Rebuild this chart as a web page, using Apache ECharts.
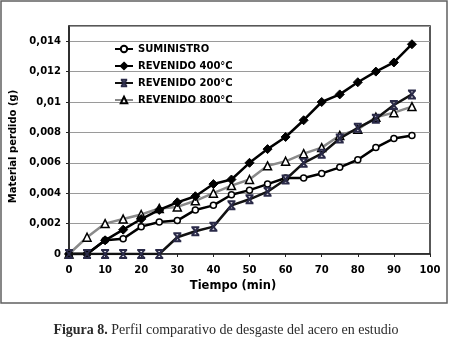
<!DOCTYPE html>
<html>
<head>
<meta charset="utf-8">
<script src="https://cdn.jsdelivr.net/npm/echarts@6/dist/echarts.min.js"></script>
<style>
html,body{margin:0;padding:0;background:#fff;}
#chart{width:452px;height:352px;}
</style>
</head>
<body>
<div id="chart"></div>
<script>
var times = [0,5,10,15,20,25,30,35,40,45,50,55,60,65,70,75,80,85,90,95];
var seriesNames = ['SUMINISTRO','REVENIDO 400°C','REVENIDO 200°C','REVENIDO 800°C'];
var suministro = [0,0,0.0009,0.0010,0.0018,0.0021,0.0022,0.0029,0.0032,0.0039,0.0042,0.0046,0.0050,0.0050,0.0053,0.0057,0.0062,0.0070,0.0076,0.0078];
var revenido400 = [0,0,0.0009,0.0016,0.0023,0.0029,0.0034,0.0038,0.0046,0.0049,0.0060,0.0069,0.0077,0.0088,0.0100,0.0105,0.0113,0.0120,0.0126,0.0138];
var revenido200 = [0,0,0,0,0,0,0.0011,0.0015,0.0018,0.0032,0.0036,0.0041,0.0049,0.0060,0.0066,0.0076,0.0083,0.0089,0.0098,0.0105];
var revenido800 = [0,0.0011,0.0020,0.0023,0.0026,0.0030,0.0031,0.0035,0.0040,0.0045,0.0049,0.0058,0.0061,0.0066,0.0070,0.0078,0.0082,0.0090,0.0093,0.0097];
var xAxisTitle = 'Tiempo (min)';
var yAxisTitle = 'Material perdido (g)';
var captionBold = 'Figura 8.';
var captionText = ' Perfil comparativo de desgaste del acero en estudio';

function pairs(vals){ return times.map(function(t,i){ return [t, vals[i]]; }); }
var font = 'DejaVu Sans';
var xMark = 'path://M0,0L10,0M0,10L10,10M1,0L9,10M9,0L1,10';

var chart = echarts.init(document.getElementById('chart'), null, {renderer:'canvas'});
chart.setOption({
  animation: false,
  backgroundColor: '#fff',
  title: {
    text: '{b|' + captionBold + '}' + captionText,
    left: 'center',
    top: 323,
    padding: 0,
    textStyle: {
      fontFamily: 'Liberation Serif',
      fontSize: 14,
      fontWeight: 'normal',
      color: '#2a2a2a',
      rich: { b: { fontFamily: 'Liberation Serif', fontSize: 14, fontWeight: 'bold', color: '#2a2a2a' } }
    }
  },
  graphic: [{
    type: 'rect',
    shape: {x: 1, y: 1, width: 446, height: 302},
    style: {fill: 'none', stroke: '#606060', lineWidth: 1.5},
    silent: true
  }],
  legend: {
    orient: 'vertical',
    left: 114,
    top: 43,
    padding: 0,
    itemWidth: 18,
    itemHeight: 8,
    itemGap: 5,
    textStyle: {fontFamily: font, fontWeight: 'bold', fontSize: 10, color: '#000', lineHeight: 12},
    data: seriesNames
  },
  grid: {
    left: 69, right: 22, top: 26, bottom: 98,
    show: true, borderColor: '#222', borderWidth: 1.5, backgroundColor: 'transparent'
  },
  xAxis: {
    type: 'value',
    min: 0, max: 100, interval: 10,
    name: xAxisTitle,
    nameLocation: 'middle',
    nameGap: 26,
    nameTextStyle: {fontFamily: font, fontWeight: 'bold', fontSize: 11.5, color: '#000', padding: [0, 33, 0, 0]},
    axisLine: {show: true, lineStyle: {color: '#222', width: 1.5}},
    axisTick: {show: true, inside: false, length: 3, lineStyle: {color: '#222'}},
    axisLabel: {fontFamily: font, fontWeight: 'bold', fontSize: 10, color: '#000', margin: 11},
    splitLine: {show: false}
  },
  yAxis: {
    type: 'value',
    min: 0, max: 0.015, interval: 0.002,
    name: yAxisTitle,
    nameLocation: 'middle',
    nameGap: 44,
    nameRotate: 90,
    nameTextStyle: {fontFamily: font, fontWeight: 'bold', fontSize: 10, color: '#000', padding: [0, 13, 0, 0]},
    axisLine: {show: true, lineStyle: {color: '#222', width: 1.5}},
    axisTick: {show: true, inside: false, length: 3, lineStyle: {color: '#222'}},
    axisLabel: {
      fontFamily: font, fontWeight: 'bold', fontSize: 10, color: '#000', margin: 8,
      showMaxLabel: false,
      formatter: function(v){ return String(Number(v.toFixed(4))).replace('.', ','); }
    },
    splitLine: {show: true, lineStyle: {color: '#9a9a9a', width: 1}}
  },
  series: [
    {
      name: seriesNames[0], type: 'line', data: pairs(suministro),
      symbol: 'circle', symbolSize: 6,
      lineStyle: {color: '#000', width: 2.5},
      itemStyle: {color: '#fff', borderColor: '#000', borderWidth: 1.5},
      z: 3
    },
    {
      name: seriesNames[1], type: 'line', data: pairs(revenido400),
      symbol: 'diamond', symbolSize: 9,
      lineStyle: {color: '#000', width: 2.5},
      itemStyle: {color: '#000', borderColor: '#000', borderWidth: 1},
      z: 4
    },
    {
      name: seriesNames[2], type: 'line', data: pairs(revenido200),
      symbol: xMark, symbolSize: 8,
      lineStyle: {color: '#111', width: 2.5},
      itemStyle: {color: 'rgba(0,0,0,0)', borderColor: '#2a2a48', borderWidth: 2},
      z: 5
    },
    {
      name: seriesNames[3], type: 'line', data: pairs(revenido800),
      symbol: 'triangle', symbolSize: 8,
      lineStyle: {color: '#8a8a8a', width: 2.5},
      itemStyle: {color: '#fff', borderColor: '#000', borderWidth: 1.5},
      z: 2
    }
  ]
});
</script>
</body>
</html>
